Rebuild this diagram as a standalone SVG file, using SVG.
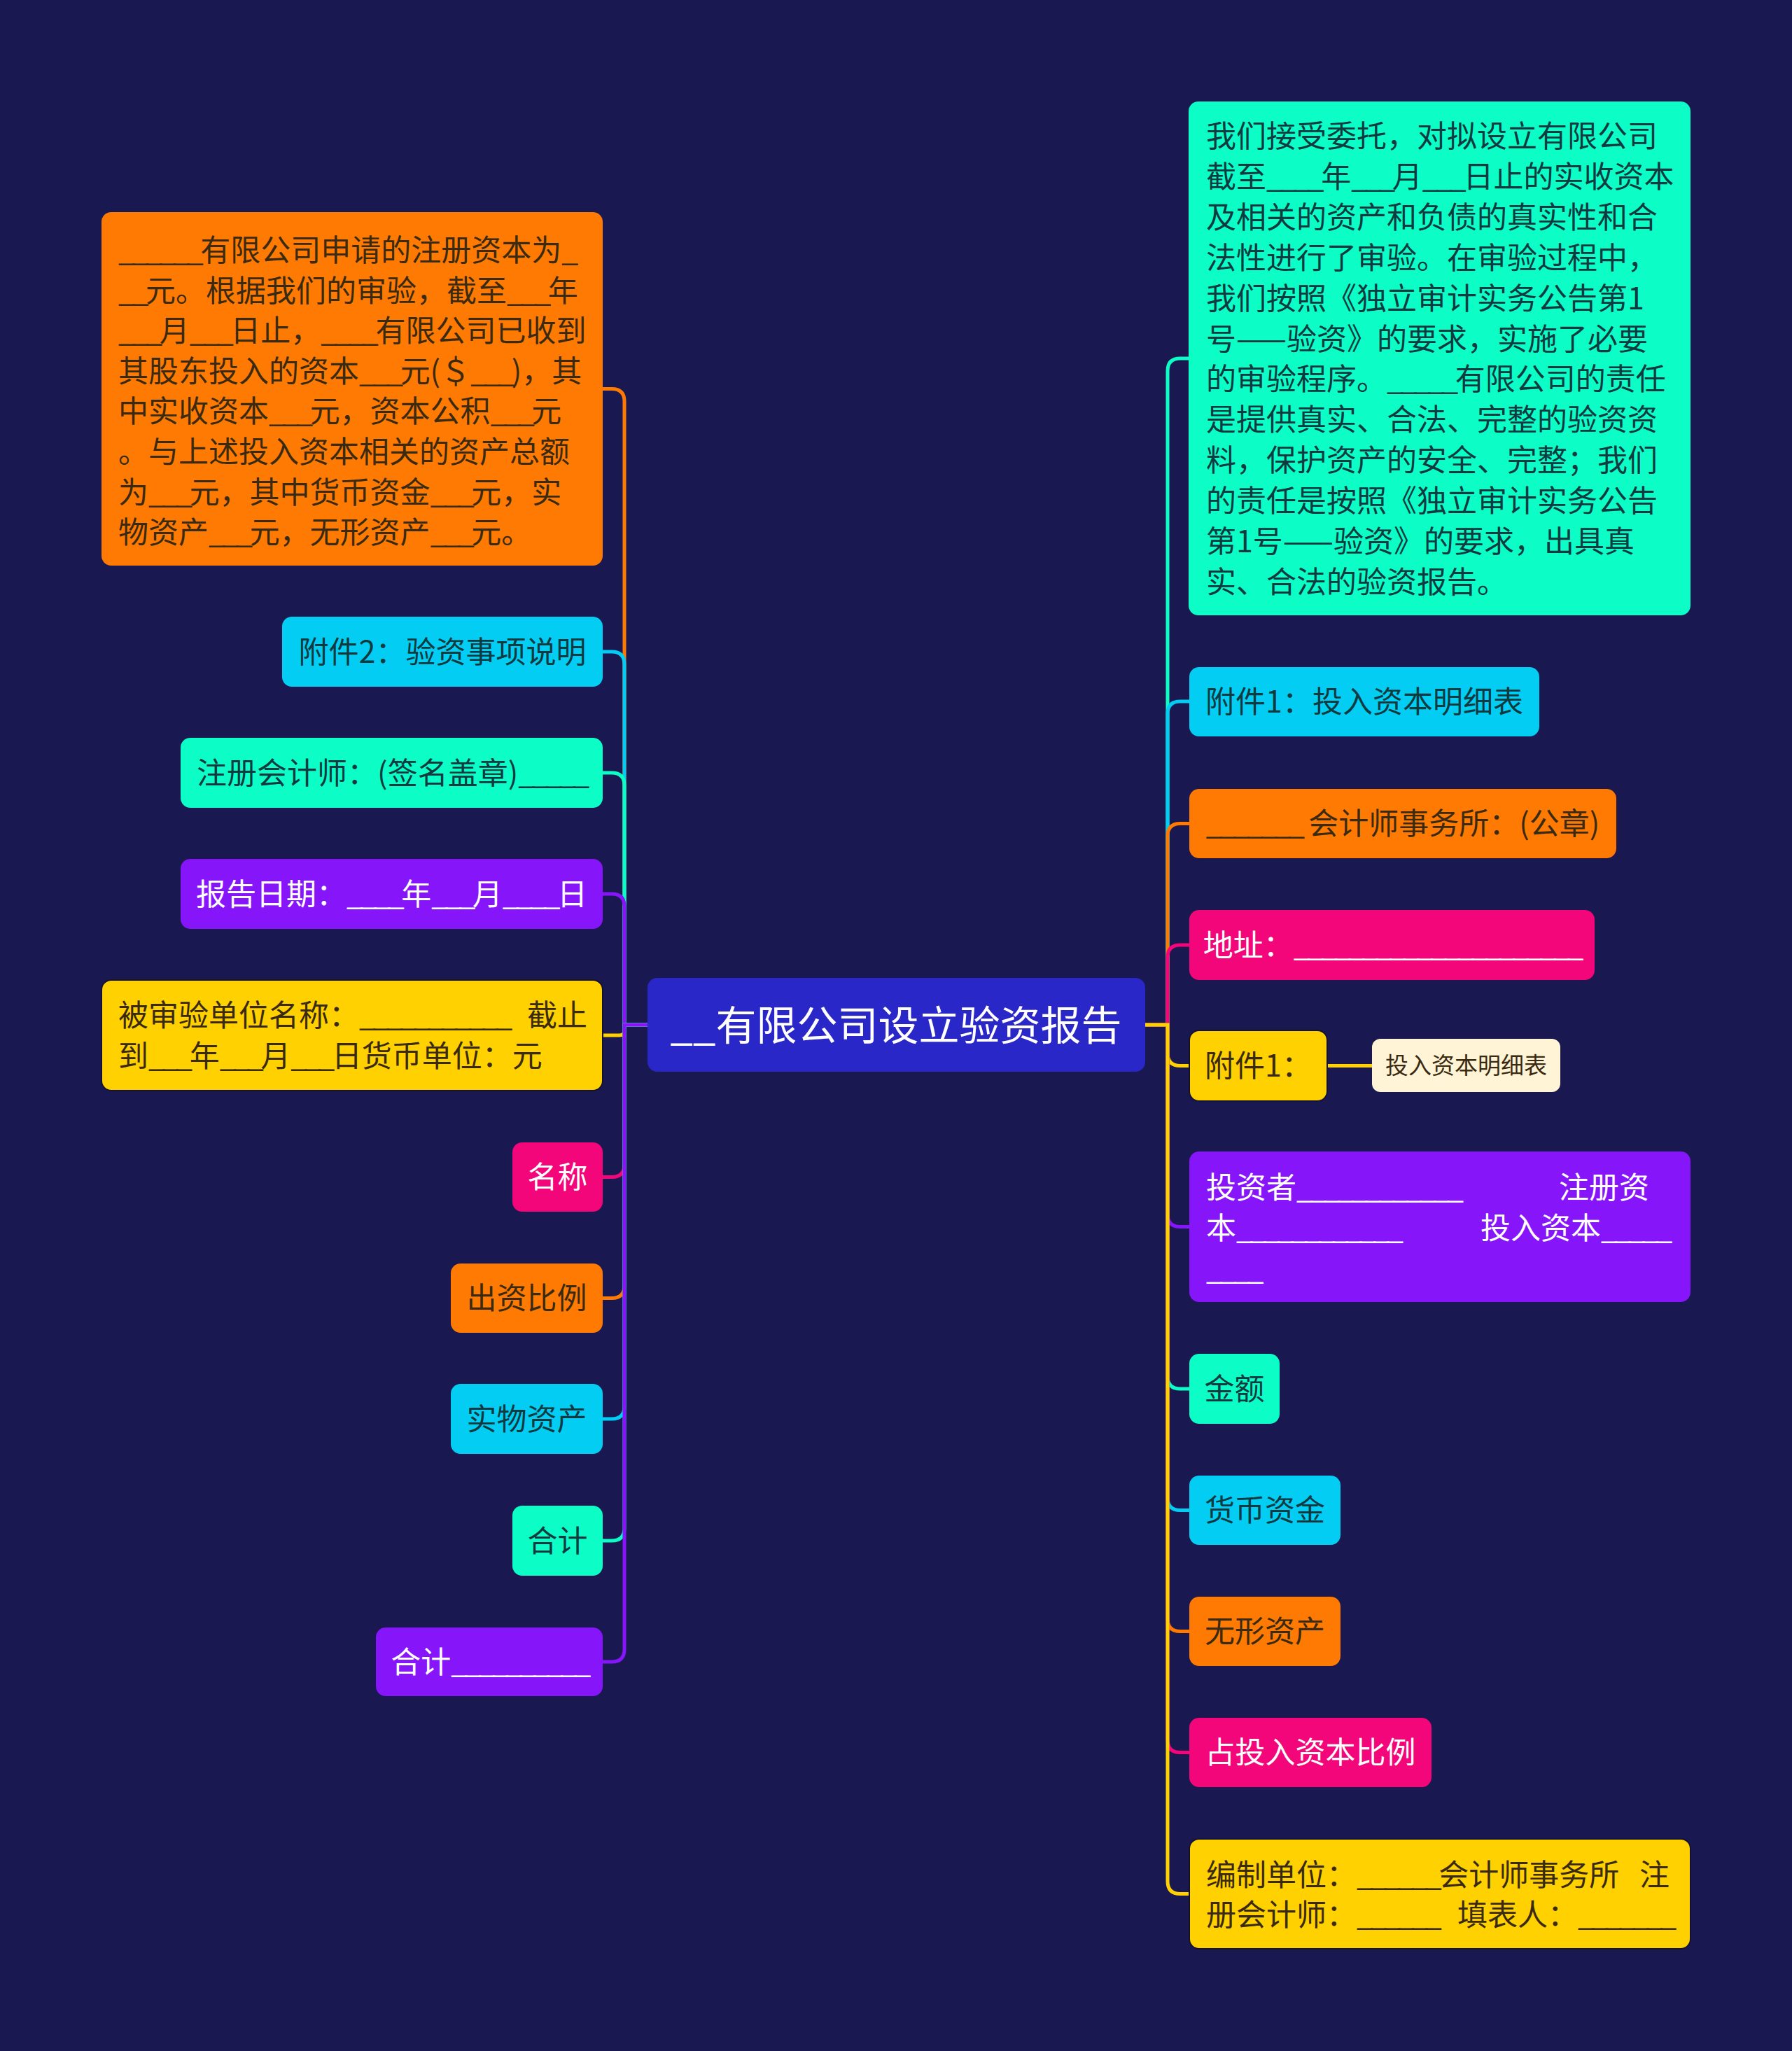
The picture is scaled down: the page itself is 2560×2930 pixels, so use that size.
<svg xmlns="http://www.w3.org/2000/svg" width="2560" height="2930" viewBox="0 0 2560 2930">
<style>
text{font-family:"Noto Sans CJK SC","Noto Sans",sans-serif;font-size:43px}
.u{letter-spacing:-4.5px}
.ut{letter-spacing:-2px}
.org{fill:#fe7a02}.cyn{fill:#04cdf4}.mnt{fill:#0cfec6}.pur{fill:#8715f9}.yel{fill:#ffd100;stroke:#141230;stroke-width:2}.pnk{fill:#f2067a}.crm{fill:#fff5d6}
.td{fill:#3a2a12}.tt{fill:#0e3a40}.tw{fill:#ffffff}
.c{text-anchor:middle}
.ln{fill:none;stroke-width:5;stroke-linecap:round}
</style>
<rect width="2560" height="2930" fill="#1a1850"/>

<g id="connectors">
  <path class="ln" stroke="#fe7a02" d="M925,1464 H892 V573.5 Q892,555.5 874,555.5 H861"/>
  <path class="ln" stroke="#04cdf4" d="M925,1464 H892 V949 Q892,931 874,931 H861"/>
  <path class="ln" stroke="#0cfec6" d="M925,1464 H892 V1122 Q892,1104 874,1104 H861"/>
  <path class="ln" stroke="#8715f9" d="M925,1464 H892 V1295 Q892,1277 874,1277 H861"/>
  <path class="ln" stroke="#ffd100" d="M925,1464 H892 V1472 Q892,1479 885,1479 H861"/>
  <path class="ln" stroke="#f2067a" d="M925,1464 H892 V1663.5 Q892,1681.5 874,1681.5 H861"/>
  <path class="ln" stroke="#fe7a02" d="M925,1464 H892 V1836.5 Q892,1854.5 874,1854.5 H861"/>
  <path class="ln" stroke="#04cdf4" d="M925,1464 H892 V2009 Q892,2027 874,2027 H861"/>
  <path class="ln" stroke="#0cfec6" d="M925,1464 H892 V2183 Q892,2201 874,2201 H861"/>
  <path class="ln" stroke="#8715f9" d="M925,1464 H892 V2356 Q892,2374 874,2374 H861"/>
  <path class="ln" stroke="#0cfec6" d="M1636,1464 H1668 V530 Q1668,512 1686,512 H1699"/>
  <path class="ln" stroke="#04cdf4" d="M1636,1464 H1668 V1020 Q1668,1002 1686,1002 H1699"/>
  <path class="ln" stroke="#fe7a02" d="M1636,1464 H1668 V1194.5 Q1668,1176.5 1686,1176.5 H1699"/>
  <path class="ln" stroke="#f2067a" d="M1636,1464 H1668 V1368 Q1668,1350 1686,1350 H1699"/>
  <path class="ln" stroke="#ffd100" d="M1636,1464 H1668 V1504.5 Q1668,1522.5 1686,1522.5 H1699"/>
  <path class="ln" stroke="#8715f9" d="M1636,1464 H1668 V1734.5 Q1668,1752.5 1686,1752.5 H1699"/>
  <path class="ln" stroke="#0cfec6" d="M1636,1464 H1668 V1966 Q1668,1984 1686,1984 H1699"/>
  <path class="ln" stroke="#04cdf4" d="M1636,1464 H1668 V2139.5 Q1668,2157.5 1686,2157.5 H1699"/>
  <path class="ln" stroke="#fe7a02" d="M1636,1464 H1668 V2312.5 Q1668,2330.5 1686,2330.5 H1699"/>
  <path class="ln" stroke="#f2067a" d="M1636,1464 H1668 V2485.5 Q1668,2503.5 1686,2503.5 H1699"/>
  <path class="ln" stroke="#ffd100" d="M1636,1464 H1668 V2687.5 Q1668,2705.5 1686,2705.5 H1699"/>
  <path class="ln" stroke="#ffd100" stroke-width="4" d="M1896,1522.5 H1960"/>
</g>

<g id="root">
  <rect x="925" y="1397" width="711" height="134" rx="14" fill="#2a27c8"/>
  <text class="tw c" x="1280" y="1486" style="font-size:58px">__有限公司设立验资报告</text>
</g>

<g id="L1">
  <rect class="org" x="145" y="303" width="716" height="505" rx="14"/>
  <text class="td">
    <tspan x="169" y="373"><tspan class="u">______</tspan>有限公司申请的注册资本为<tspan class="u">_</tspan></tspan>
    <tspan x="169" y="430.6"><tspan class="u">__</tspan>元。根据我们的审验，截至<tspan class="u">___</tspan>年</tspan>
    <tspan x="169" y="488.2"><tspan class="u">___</tspan>月<tspan class="u">___</tspan>日止，<tspan class="u">____</tspan>有限公司已收到</tspan>
    <tspan x="169" y="545.8">其股东投入的资本<tspan class="u">___</tspan>元(＄<tspan class="u">___</tspan>)，其</tspan>
    <tspan x="169" y="603.4">中实收资本<tspan class="u">___</tspan>元，资本公积<tspan class="u">___</tspan>元</tspan>
    <tspan x="169" y="661">。与上述投入资本相关的资产总额</tspan>
    <tspan x="169" y="718.6">为<tspan class="u">___</tspan>元，其中货币资金<tspan class="u">___</tspan>元，实</tspan>
    <tspan x="169" y="776.2">物资产<tspan class="u">___</tspan>元，无形资产<tspan class="u">___</tspan>元。</tspan>
  </text>
</g>
<g id="L2">
  <rect class="cyn" x="403" y="881" width="458" height="100" rx="14"/>
  <text class="tt c" x="632" y="947">附件2：验资事项说明</text>
</g>
<g id="L3">
  <rect class="mnt" x="258" y="1054" width="603" height="100" rx="14"/>
  <text class="tt c" x="559.5" y="1120">注册会计师：(签名盖章)<tspan class="u">_____</tspan></text>
</g>
<g id="L4">
  <rect class="pur" x="258" y="1227" width="603" height="100" rx="14"/>
  <text class="tw c" x="559.5" y="1293">报告日期：<tspan class="u">____</tspan>年<tspan class="u">___</tspan>月<tspan class="u">____</tspan>日</text>
</g>
<g id="L5">
  <rect class="yel" x="145" y="1400" width="716" height="158" rx="14"/>
  <text class="td">
    <tspan x="169" y="1466">被审验单位名称：<tspan class="u">___________</tspan></tspan><tspan x="753" y="1466">截止</tspan>
    <tspan x="169" y="1524">到<tspan class="u">___</tspan>年<tspan class="u">___</tspan>月<tspan class="u">___</tspan>日货币单位：元</tspan>
  </text>
</g>
<g id="L6">
  <rect class="pnk" x="732" y="1632" width="129" height="99" rx="14"/>
  <text class="tw c" x="796.5" y="1697">名称</text>
</g>
<g id="L7">
  <rect class="org" x="644" y="1805" width="217" height="99" rx="14"/>
  <text class="td c" x="752.5" y="1870">出资比例</text>
</g>
<g id="L8">
  <rect class="cyn" x="644" y="1977" width="217" height="100" rx="14"/>
  <text class="tt c" x="752.5" y="2043">实物资产</text>
</g>
<g id="L9">
  <rect class="mnt" x="732" y="2151" width="129" height="100" rx="14"/>
  <text class="tt c" x="796.5" y="2217">合计</text>
</g>
<g id="L10">
  <rect class="pur" x="537" y="2325" width="324" height="98" rx="14"/>
  <text class="tw c" x="699" y="2390">合计<tspan class="u">__________</tspan></text>
</g>

<g id="R1">
  <rect class="mnt" x="1698" y="145" width="717" height="734" rx="14"/>
  <text class="tt">
    <tspan x="1723" y="210">我们接受委托，对拟设立有限公司</tspan>
    <tspan x="1723" y="267.9">截至<tspan class="u">____</tspan>年<tspan class="u">___</tspan>月<tspan class="u">___</tspan>日止的实收资本</tspan>
    <tspan x="1723" y="325.8">及相关的资产和负债的真实性和合</tspan>
    <tspan x="1723" y="383.7">法性进行了审验。在审验过程中，</tspan>
    <tspan x="1723" y="441.6">我们按照《独立审计实务公告第1</tspan>
    <tspan x="1723" y="499.5">号——验资》的要求，实施了必要</tspan>
    <tspan x="1723" y="557.4">的审验程序。<tspan class="u">_____</tspan>有限公司的责任</tspan>
    <tspan x="1723" y="615.3">是提供真实、合法、完整的验资资</tspan>
    <tspan x="1723" y="673.2">料，保护资产的安全、完整；我们</tspan>
    <tspan x="1723" y="731.1">的责任是按照《独立审计实务公告</tspan>
    <tspan x="1723" y="789">第1号——验资》的要求，出具真</tspan>
    <tspan x="1723" y="846.9">实、合法的验资报告。</tspan>
  </text>
</g>
<g id="R2">
  <rect class="cyn" x="1699" y="953" width="500" height="99" rx="14"/>
  <text class="tt c" x="1949" y="1018">附件1：投入资本明细表</text>
</g>
<g id="R3">
  <rect class="org" x="1699" y="1127" width="610" height="99" rx="14"/>
  <text class="td c" x="2004" y="1192"><tspan class="u">_______</tspan> 会计师事务所：(公章)</text>
</g>
<g id="R4">
  <rect class="pnk" x="1699" y="1300" width="579" height="100" rx="14"/>
  <text class="tw c" x="1988.5" y="1366">地址：<tspan class="u">_____________________</tspan></text>
</g>
<g id="R5">
  <rect class="yel" x="1699" y="1472" width="197" height="101" rx="14"/>
  <text class="td c" x="1797.5" y="1538">附件1：</text>
</g>
<g id="R5a">
  <rect class="crm" x="1960" y="1484" width="269" height="76" rx="12"/>
  <text class="td c" x="2094.5" y="1534" style="font-size:33px">投入资本明细表</text>
</g>
<g id="R6">
  <rect class="pur" x="1699" y="1645" width="716" height="215" rx="14"/>
  <text class="tw">
    <tspan x="1723" y="1712">投资者<tspan class="u">____________</tspan></tspan><tspan x="2227" y="1712">注册资</tspan>
    <tspan x="1723" y="1770">本<tspan class="u">____________</tspan></tspan><tspan x="2115" y="1770">投入资本<tspan class="u">_____</tspan></tspan>
    <tspan x="1723" y="1828" class="u">____</tspan>
  </text>
</g>
<g id="R7">
  <rect class="mnt" x="1699" y="1934" width="129" height="100" rx="14"/>
  <text class="tt c" x="1763.5" y="2000">金额</text>
</g>
<g id="R8">
  <rect class="cyn" x="1699" y="2108" width="216" height="99" rx="14"/>
  <text class="tt c" x="1807" y="2173">货币资金</text>
</g>
<g id="R9">
  <rect class="org" x="1699" y="2281" width="216" height="99" rx="14"/>
  <text class="td c" x="1807" y="2346">无形资产</text>
</g>
<g id="R10">
  <rect class="pnk" x="1699" y="2454" width="346" height="99" rx="14"/>
  <text class="tw c" x="1872" y="2519">占投入资本比例</text>
</g>
<g id="R11">
  <rect class="yel" x="1699" y="2627" width="716" height="157" rx="14"/>
  <text class="td">
    <tspan x="1723" y="2694">编制单位：<tspan class="u">______</tspan>会计师事务所</tspan><tspan x="2342" y="2694">注</tspan>
    <tspan x="1723" y="2751">册会计师：<tspan class="u">______</tspan></tspan><tspan x="2082" y="2751">填表人：<tspan class="u">_______</tspan></tspan>
  </text>
</g>
</svg>
